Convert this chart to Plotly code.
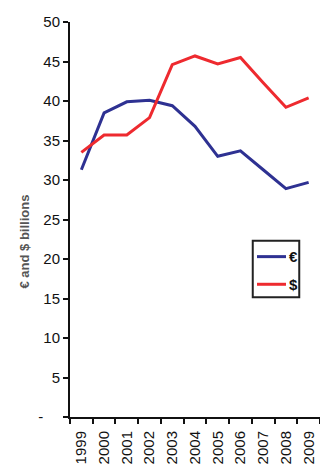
import plotly.graph_objects as go

years = ["1999", "2000", "2001", "2002", "2003", "2004", "2005", "2006", "2007", "2008", "2009"]
euro_vals = [31.3, 38.5, 39.9, 40.1, 39.4, 36.8, 33.0, 33.7, 31.3, 28.9, 29.7]
dollar_vals = [33.5, 35.7, 35.7, 37.9, 44.6, 45.7, 44.7, 45.5, 42.3, 39.2, 40.4]
y_tickvals = [0, 5, 10, 15, 20, 25, 30, 35, 40, 45, 50]
y_ticktext = ["-\u00a0\u00a0\u00a0\u00a0", "5", "10", "15", "20", "25", "30", "35", "40", "45", "50"]
series_names = ["€", "$"]

BLUE = "#2E3192"
RED = "#EE2A2F"
FONT = "Liberation Sans, Arial, sans-serif"

fig = go.Figure()
fig.add_trace(go.Scatter(x=years, y=euro_vals, mode="lines", name=series_names[0],
                         line=dict(color=BLUE, width=3), showlegend=False))
fig.add_trace(go.Scatter(x=years, y=dollar_vals, mode="lines", name=series_names[1],
                         line=dict(color=RED, width=3), showlegend=False))

# compact boxed key, drawn in paper coordinates
key_x0, key_x1 = 0.731, 0.917
key_y0, key_y1 = 0.303, 0.446
line_x0, line_x1 = 0.748, 0.864
row_y = [0.406, 0.336]
shapes = [dict(type="rect", xref="paper", yref="paper", x0=key_x0, x1=key_x1,
               y0=key_y0, y1=key_y1, line=dict(color="#222", width=2),
               fillcolor="white", layer="above")]
annotations = []
for name, color, yy in zip(series_names, [BLUE, RED], row_y):
    shapes.append(dict(type="line", xref="paper", yref="paper", x0=line_x0, x1=line_x1,
                       y0=yy, y1=yy, line=dict(color=color, width=3), layer="above"))
    annotations.append(dict(text=f"<b>{name}</b>", xref="paper", yref="paper",
                            x=line_x1 + 0.002, y=yy, xanchor="left", yanchor="middle",
                            showarrow=False, font=dict(size=15, color="#111")))

annotations.append(dict(text="<b>€ and $ billions</b>", xref="paper", yref="paper",
                        x=-0.22, y=0.443, textangle=-90, showarrow=False,
                        font=dict(size=13, color="#555")))

fig.update_layout(
    width=320, height=466,
    margin=dict(l=70, r=0, t=22, b=49),
    paper_bgcolor="white", plot_bgcolor="white",
    font=dict(family=FONT, size=15, color="#111"),
    showlegend=False,
    xaxis=dict(type="category", range=[-0.5, 10.5], showgrid=False, zeroline=False,
               showline=True, linecolor="#111", linewidth=2,
               ticks="outside", tickson="boundaries", ticklen=5, tickwidth=1.5,
               tickcolor="#111", tickangle=-90, tickfont=dict(size=15),
               ticklabelstandoff=6),
    yaxis=dict(range=[0, 50], showgrid=False, zeroline=False,
               showline=True, linecolor="#111", linewidth=2,
               ticks="outside", ticklen=5, tickwidth=1.5, tickcolor="#111",
               tickvals=y_tickvals, ticktext=y_ticktext, tickfont=dict(size=15)),
    shapes=shapes,
    annotations=annotations,
)

fig.write_html("out.html")
